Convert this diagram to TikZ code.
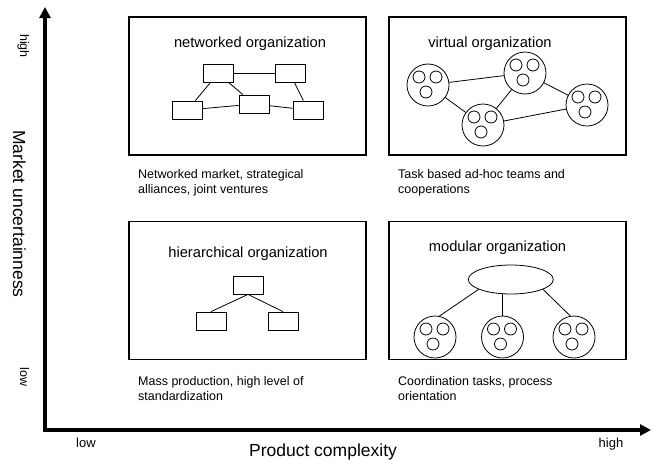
\documentclass[tikz,border=0pt]{standalone}
\usepackage{fontspec}
\setmainfont{Liberation Sans}
\usetikzlibrary{arrows.meta,shapes.geometric}
\begin{document}
\begin{tikzpicture}[x=1pt,y=-1pt,
  quad/.style={draw, line width=1.3pt, minimum width=237pt, minimum height=138pt, inner sep=0pt},
  unit/.style={draw, line width=0.8pt, minimum width=30pt, minimum height=18pt, inner sep=0pt},
  team/.style={circle, draw, line width=0.8pt, minimum size=42pt, inner sep=0pt},
  member/.style={circle, draw, line width=0.8pt, minimum size=12pt, inner sep=0pt},
  hub/.style={ellipse, draw, line width=0.8pt, minimum width=85pt, minimum height=29pt, inner sep=0pt},
  link/.style={line width=0.8pt},
  ttl/.style={font=\fontsize{14.7}{17}\selectfont, inner sep=0pt},
  desc/.style={font=\fontsize{12.5}{15.5}\selectfont, align=left, anchor=north west, inner sep=0pt},
  axis/.style={line width=3.2pt, {Triangle[length=11pt,width=11pt]}-{Triangle[length=11pt,width=11pt]}},
  ytick/.style={font=\fontsize{12.5}{14}\selectfont, inner sep=0pt, anchor=base, rotate=-90},
  xtick/.style={font=\fontsize{13}{15}\selectfont, inner sep=0pt, anchor=base},
  axtitle/.style={font=\fontsize{17.5}{20}\selectfont, inner sep=0pt, anchor=base},
  pics/team/.style={code={
    \node[team] (-c) at (0,0) {};
    \node[member] (-a) at (-9,-8) {};
    \node[member] (-b) at (8,-8) {};
    \node[member] (-d) at (-2,7) {};
  }}
]
\useasboundingbox (0,0) rectangle (654,459);

% quadrant boxes
\node[quad] (qnw) at (247.5,86) {};
\node[quad] (qne) at (507.5,86) {};
\node[quad] (qsw) at (247.5,290.5) {};
\node[quad] (qse) at (507.5,290.5) {};

% titles
\node[ttl] (tnw) at (250,44) {networked organization};
\node[ttl] (tne) at (490,43.5) {virtual organization};
\node[ttl] (tsw) at (248,253.5) {hierarchical organization};
\node[ttl] (tse) at (497.5,247.5) {modular organization};

% networked organization
\node[unit] (n1) at (218,73.5) {};
\node[unit] (n2) at (290,73.5) {};
\node[unit] (n3) at (187.5,110) {};
\node[unit] (n4) at (254,104) {};
\node[unit] (n5) at (308,110) {};
\draw[link] (n1) -- (n2);
\draw[link] (n1) -- (n3);
\draw[link] (n1) -- (n4);
\draw[link] (n2) -- (n5);
\draw[link] (n3) -- (n4);
\draw[link] (n4) -- (n5);

% virtual organization
\pic (v1) at (428,85) {team};
\pic (v2) at (525,73) {team};
\pic (v3) at (483,125) {team};
\pic (v4) at (587,105) {team};
\draw[link] (v1-c) -- (v2-c);
\draw[link] (v1-c) -- (v3-c);
\draw[link] (v2-c) -- (v3-c);
\draw[link] (v2-c) -- (v4-c);
\draw[link] (v3-c) -- (v4-c);

% hierarchical organization
\node[unit] (h1) at (248,285) {};
\node[unit] (h2) at (211,321) {};
\node[unit] (h3) at (283,321) {};
\draw[link] (h1.south) -- (h2.north);
\draw[link] (h1.south) -- (h3.north);

% modular organization
\node[hub] (m0) at (510.8,279.5) {};
\pic (m1) at (435,337) {team};
\pic (m2) at (502.5,337) {team};
\pic (m3) at (574,337) {team};
\draw[link] (m0.197) -- (m1-c.78);
\draw[link] (m2-c.north) -- (m2-c.north |- m0.south);
\draw[link] (m0.343) -- (m3-c.100);

% descriptions
\node[desc] (dnw) at (138,169) {Networked market, strategical\\alliances, joint ventures};
\node[desc] (dne) at (398,169) {Task based ad-hoc teams and\\cooperations};
\node[desc] (dsw) at (138,376) {Mass production, high level of\\standardization};
\node[desc] (dse) at (398,376) {Coordination tasks, process\\orientation};

% axes
\coordinate (o) at (45,430);
\coordinate (ytip) at (45,7);
\coordinate (xtip) at (651,430);
\draw[axis] (ytip) -- (o) -- (xtip);

\node[ytick] (yhigh) at (20,46) {high};
\node[ytick] (ylow) at (20,377) {low};
\node[axtitle, rotate=-90] (ytitle) at (13,214) {Market uncertainness};
\node[xtick] (xlow) at (86,447.5) {low};
\node[xtick] (xhigh) at (611,447.5) {high};
\node[axtitle] (xtitle) at (323,456) {Product complexity};
\end{tikzpicture}
\end{document}
